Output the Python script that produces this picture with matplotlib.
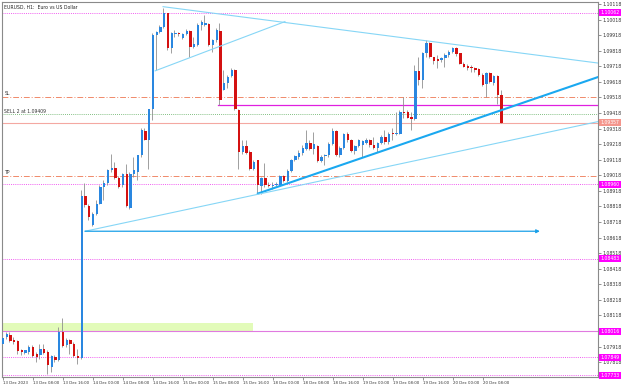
import matplotlib
matplotlib.use("Agg")
import matplotlib.pyplot as plt
import matplotlib.transforms as mtransforms
from matplotlib.patches import Rectangle

# EURUSD H1 candles (bar 0 = 13 Dec 00:00)
opens = [1.07937, 1.07980, 1.07995, 1.07958, 1.07954, 1.07894, 1.07879, 1.07883, 1.07915, 1.07868,
         1.07862, 1.07905, 1.07883, 1.07786, 1.07851, 1.07830, 1.08012, 1.07926, 1.07958, 1.07937,
         1.07856, 1.07847, 1.08888, 1.08820, 1.08697, 1.08772, 1.08836, 1.08940, 1.08969, 1.09051,
         1.09068, 1.09004, 1.08955, 1.09025, 1.08811, 1.09029, 1.09040, 1.09147, 1.09304, 1.09248,
         1.09441, 1.09919, 1.09940, 1.09972, 1.10058, 1.09833, 1.09923, 1.09929, 1.09897, 1.09925,
         1.09944, 1.09844, 1.09854, 1.09983, 1.09983, 1.09989, 1.09854, 1.09886, 1.09947, 1.09569,
         1.09612, 1.09655, 1.09694, 1.09437, 1.09169, 1.09207, 1.09169, 1.09061, 1.09115, 1.08950,
         1.09004, 1.08959, 1.08950, 1.08955, 1.08959, 1.09012, 1.08982, 1.09047, 1.09115, 1.09137,
         1.09162, 1.09186, 1.09226, 1.09190, 1.09205, 1.09111, 1.09141, 1.09147, 1.09222, 1.09301,
         1.09147, 1.09196, 1.09286, 1.09244, 1.09173, 1.09205, 1.09211, 1.09226, 1.09244, 1.09211,
         1.09196, 1.09226, 1.09265, 1.09233, 1.09291, 1.09286, 1.09286, 1.09426, 1.09426, 1.09394,
         1.09377, 1.09686, 1.09629, 1.09801, 1.09869, 1.09775, 1.09762, 1.09758, 1.09769, 1.09790,
         1.09812, 1.09833, 1.09801, 1.09736, 1.09719, 1.09711, 1.09704, 1.09698, 1.09662, 1.09604,
         1.09677, 1.09612, 1.09655, 1.09536]
highs = [1.07990, 1.08012, 1.08012, 1.07980, 1.07958, 1.07905, 1.07898, 1.07926, 1.07926, 1.07883,
         1.07937, 1.07937, 1.07894, 1.07862, 1.07862, 1.08044, 1.08103, 1.07975, 1.07969, 1.07947,
         1.07905, 1.08922, 1.08969, 1.08836, 1.08783, 1.08858, 1.08955, 1.08987, 1.09061, 1.09158,
         1.09104, 1.09012, 1.09034, 1.09093, 1.09040, 1.09137, 1.09150, 1.09319, 1.09319, 1.09447,
         1.09929, 1.09944, 1.09983, 1.10093, 1.10062, 1.09940, 1.09951, 1.09940, 1.09934, 1.09955,
         1.09951, 1.09908, 1.09994, 1.10015, 1.10047, 1.09994, 1.09891, 1.09961, 1.09998, 1.09694,
         1.09662, 1.09704, 1.09698, 1.09447, 1.09244, 1.09244, 1.09180, 1.09115, 1.09119, 1.09008,
         1.09098, 1.08976, 1.08976, 1.08976, 1.09019, 1.09019, 1.09061, 1.09126, 1.09147, 1.09180,
         1.09211, 1.09308, 1.09244, 1.09297, 1.09211, 1.09147, 1.09158, 1.09233, 1.09319, 1.09308,
         1.09205, 1.09291, 1.09297, 1.09254, 1.09211, 1.09254, 1.09248, 1.09259, 1.09254, 1.09265,
         1.09233, 1.09276, 1.09308, 1.09297, 1.09319, 1.09426, 1.09437, 1.09522, 1.09437, 1.09426,
         1.09726, 1.09779, 1.09812, 1.09886, 1.09876, 1.09779, 1.09790, 1.09775, 1.09801, 1.09823,
         1.09844, 1.09839, 1.09805, 1.09747, 1.09736, 1.09726, 1.09715, 1.09704, 1.09672, 1.09683,
         1.09683, 1.09662, 1.09662, 1.09565]
lows = [1.07926, 1.07969, 1.07947, 1.07937, 1.07873, 1.07862, 1.07873, 1.07873, 1.07851, 1.07819,
        1.07840, 1.07873, 1.07743, 1.07754, 1.07819, 1.07826, 1.07915, 1.07915, 1.07873, 1.07851,
        1.07808, 1.07840, 1.08815, 1.08729, 1.08691, 1.08761, 1.08832, 1.08858, 1.08955, 1.09040,
        1.08997, 1.08937, 1.08944, 1.08815, 1.08804, 1.09008, 1.08987, 1.09137, 1.09244, 1.09061,
        1.09372, 1.09694, 1.09929, 1.09961, 1.09823, 1.09801, 1.09908, 1.09912, 1.09891, 1.09919,
        1.09779, 1.09833, 1.09850, 1.09951, 1.09977, 1.09848, 1.09812, 1.09876, 1.09469, 1.09565,
        1.09576, 1.09651, 1.09437, 1.09061, 1.09158, 1.09158, 1.09051, 1.09051, 1.08901, 1.08901,
        1.08944, 1.08940, 1.08933, 1.08948, 1.08955, 1.08976, 1.08976, 1.09040, 1.09111, 1.09126,
        1.09147, 1.09180, 1.09180, 1.09158, 1.09104, 1.09104, 1.09083, 1.09137, 1.09211, 1.09141,
        1.09137, 1.09190, 1.09233, 1.09169, 1.09158, 1.09201, 1.09137, 1.09218, 1.09201, 1.09190,
        1.09169, 1.09218, 1.09222, 1.09222, 1.09244, 1.09276, 1.09282, 1.09383, 1.09383, 1.09312,
        1.09372, 1.09597, 1.09576, 1.09779, 1.09769, 1.09736, 1.09704, 1.09747, 1.09715, 1.09779,
        1.09801, 1.09784, 1.09732, 1.09711, 1.09694, 1.09683, 1.09683, 1.09655, 1.09591, 1.09522,
        1.09608, 1.09597, 1.09479, 1.09355]
closes = [1.07975, 1.08001, 1.07954, 1.07947, 1.07890, 1.07883, 1.07894, 1.07915, 1.07856, 1.07851,
          1.07905, 1.07879, 1.07797, 1.07856, 1.07830, 1.08012, 1.07919, 1.07962, 1.07937, 1.07856,
          1.07847, 1.08888, 1.08826, 1.08751, 1.08772, 1.08836, 1.08940, 1.08969, 1.09055, 1.09068,
          1.09004, 1.08944, 1.09025, 1.08820, 1.09029, 1.09051, 1.09147, 1.09308, 1.09248, 1.09441,
          1.09919, 1.09940, 1.09972, 1.10058, 1.09833, 1.09929, 1.09934, 1.09927, 1.09925, 1.09947,
          1.09844, 1.09859, 1.09983, 1.10000, 1.09998, 1.09854, 1.09886, 1.09951, 1.09501, 1.09608,
          1.09651, 1.09694, 1.09447, 1.09169, 1.09207, 1.09164, 1.09061, 1.09104, 1.08955, 1.09001,
          1.08955, 1.08950, 1.08959, 1.08965, 1.09012, 1.08982, 1.09047, 1.09119, 1.09141, 1.09164,
          1.09196, 1.09226, 1.09190, 1.09222, 1.09111, 1.09137, 1.09147, 1.09222, 1.09301, 1.09147,
          1.09196, 1.09286, 1.09244, 1.09173, 1.09205, 1.09244, 1.09239, 1.09244, 1.09211, 1.09196,
          1.09226, 1.09265, 1.09233, 1.09286, 1.09286, 1.09291, 1.09426, 1.09420, 1.09389, 1.09377,
          1.09686, 1.09629, 1.09801, 1.09865, 1.09775, 1.09754, 1.09754, 1.09769, 1.09790, 1.09812,
          1.09833, 1.09797, 1.09736, 1.09715, 1.09704, 1.09704, 1.09694, 1.09662, 1.09597, 1.09677,
          1.09619, 1.09655, 1.09536, 1.09357]

tick_bars = [0, 8, 16, 24, 32, 40, 48, 56, 64, 72, 80, 88, 96, 104, 112, 120, 128]
tick_labels = ["13 Dec 2023", "13 Dec 08:00", "13 Dec 16:00", "14 Dec 00:00", "14 Dec 08:00",
               "14 Dec 16:00", "15 Dec 00:00", "15 Dec 08:00", "15 Dec 16:00", "18 Dec 00:00",
               "18 Dec 08:00", "18 Dec 16:00", "19 Dec 00:00", "19 Dec 08:00", "19 Dec 16:00",
               "20 Dec 00:00", "20 Dec 08:00"]
price_ticks = [1.07818, 1.07918, 1.08018, 1.08118, 1.08218, 1.08318, 1.08418, 1.08518, 1.08618,
               1.08718, 1.08818, 1.08918, 1.09018, 1.09118, 1.09218, 1.09318, 1.09418, 1.09518,
               1.09618, 1.09718, 1.09818, 1.09918, 1.10018, 1.10118]
hidden_ticks = [1.08018]  # covered by the 1.08016 marker in the original

# horizontal levels
sl_level = 1.09520
tp_level = 1.09015
sell_level = 1.09409
bid_level = 1.09357
alert_levels = [1.10062, 1.08960, 1.08483, 1.07849, 1.07733]
mid_level = 1.09469
zone_low, zone_high = 1.08016, 1.08069

FS = 3.3
BLUE = "#2a87e0"
RED = "#d41111"
WICK = "#8f8f8f"

fig = plt.figure(figsize=(6.25, 3.87), dpi=100)
ax = fig.add_axes([2 / 625, 10 / 387, 596 / 625, 375 / 387])
x_max = 158.8
ax.set_xlim(-0.15, x_max)
ax.set_ylim(1.07723, 1.10131)

# candles
for i in range(len(opens)):
    o, h, l, c = opens[i], highs[i], lows[i], closes[i]
    ax.vlines(i - 0.2, l, h, color=WICK, lw=0.6, zorder=3)
    col = BLUE if c >= o else RED
    body = max(abs(c - o), 0.00003)
    ax.bar(i + 0.1, body, bottom=min(o, c), width=0.62, color=col, lw=0, zorder=4)

# levels
ax.add_patch(Rectangle((-0.15, zone_low), 66.9, zone_high - zone_low, fc="#e2fbb9", ec="none", zorder=1))
ax.axhline(zone_low, color="#e07ae0", lw=0.8, zorder=2)
for lv in alert_levels:
    ax.axhline(lv, color="#f05cf0", lw=0.7, ls=(0, (1, 1.2)), zorder=2)
ax.axhline(sl_level, color="#f08a6a", lw=0.7, ls=(0, (6, 2, 1, 2)), zorder=2)
ax.axhline(tp_level, color="#f08a6a", lw=0.7, ls=(0, (6, 2, 1, 2)), zorder=2)
ax.axhline(sell_level, color="#5aaa5a", lw=0.6, ls=(0, (1, 1.5)), zorder=2)
ax.axhline(bid_level, color="#f4a8a2", lw=0.8, zorder=2)
ax.plot([57.4, x_max], [mid_level, mid_level], color="#e020e0", lw=0.9, zorder=2)

# trend lines
ax.plot([42.8, x_max], [1.10101, 1.09739], color="#86d6f6", lw=0.8, zorder=5)
ax.plot([40.7, 75.3], [1.09689, 1.10005], color="#86d6f6", lw=0.8, zorder=5)
ax.plot([68.1, x_max], [1.08901, 1.09649], color="#1aa8f0", lw=1.5, zorder=5)
ax.plot([22, x_max], [1.08659, 1.09363], color="#86d6f6", lw=0.8, zorder=5)
ax.annotate("", xy=(143.3, 1.08659), xytext=(22, 1.08659),
            arrowprops=dict(arrowstyle="-|>", color="#1aa0e8", lw=0.9, mutation_scale=5,
                            shrinkA=0, shrinkB=0), zorder=5)

# texts
trans = mtransforms.blended_transform_factory(ax.transAxes, ax.transData)
ax.text(0.004, 0.992, "EURUSD, H1:  Euro vs US Dollar", transform=ax.transAxes,
        fontsize=FS, va="top", ha="left", color="#222222")
ax.text(0.004, sl_level + 0.00006, "SL", transform=trans, fontsize=FS, va="bottom", color="#333333")
ax.text(0.004, sell_level + 0.00006, "SELL 2 at 1.09409", transform=trans, fontsize=FS,
        va="bottom", color="#333333")
ax.text(0.004, tp_level + 0.00006, "TP", transform=trans, fontsize=FS, va="bottom", color="#333333")

for lv, txt in zip(alert_levels + [zone_low], ["1.10062", "1.08960", "1.08483", "1.07849", "1.07733", "1.08016"]):
    ax.text(1.004, lv, txt, transform=trans, fontsize=FS, va="center", ha="left", color="white",
            bbox=dict(boxstyle="square,pad=0.25", fc="#ff00ff", ec="none"), clip_on=False, zorder=10)
ax.text(1.004, bid_level, "1.09357", transform=trans, fontsize=FS, va="center", ha="left",
        color="white", bbox=dict(boxstyle="square,pad=0.25", fc="#f4958c", ec="none"),
        clip_on=False, zorder=10)

# axes styling
ax.yaxis.tick_right()
ax.set_yticks(price_ticks)
ax.set_yticklabels(["" if p in hidden_ticks else f"{p:.5f}" for p in price_ticks])
ax.set_xticks(tick_bars)
ax.set_xticklabels(tick_labels, ha="left")
ax.tick_params(axis="y", labelsize=FS, length=2, width=0.5, color="#666666", pad=1,
               labelcolor="#333333")
ax.tick_params(axis="x", labelsize=2.8, length=2, width=0.5, color="#666666", pad=1,
               labelcolor="#333333")
for s in ax.spines.values():
    s.set_color("#8a8a8a")
    s.set_linewidth(0.8)

fig.savefig("out.png", dpi=100)
